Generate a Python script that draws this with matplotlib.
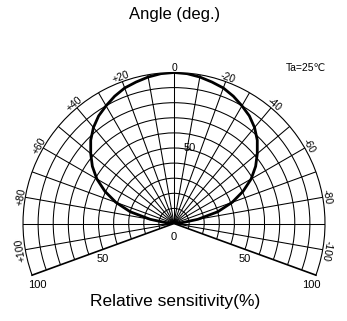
import numpy as np
import matplotlib
matplotlib.use("Agg")
import matplotlib.pyplot as plt

plt.rcParams["font.family"] = ["Liberation Sans", "DejaVu Sans"]

# directivity (deg from axis, relative sensitivity %)
angles = [0, 5, 10, 15, 20, 25, 30, 35, 40, 45, 50, 55, 60, 65, 70, 75, 80, 85, 90]
sensitivity = [100, 99.6, 98.5, 97, 95.5, 93, 90, 87, 83, 78, 72, 66, 59,
               50.5, 41, 30, 16, 5, 0]

angle_ticks = [0, 20, 40, 60, 80, 100]
angle_labels = ["0", "+20", "+40", "+60", "+80", "+100"]
angle_labels_neg = ["", "-20", "-40", "-60", "-80", "-100"]

W, H = 347, 321
fig = plt.figure(figsize=(W / 100, H / 100), dpi=100)
ax = fig.add_axes([0.0663, 0.143, 0.8703, 0.6312], projection="polar")

ax.set_theta_zero_location("N")
ax.set_thetamin(-110)
ax.set_thetamax(110)
ax.set_ylim(0, 100)

ax.set_rgrids(np.arange(10, 100, 10), labels=[])
ax.set_thetagrids(np.arange(-100, 101, 10), labels=[])
ax.grid(True, color="black", linewidth=0.75)
ax.tick_params(length=0)
for name, sp in ax.spines.items():
    sp.set_color("black")
    sp.set_linewidth(0.8 if name == "polar" else 1.2)

# place the wedge: centre at (174, 97.5) px from bottom-left, radius 151 px
cx_t, cy_t, rad_t = 174, H - 223.5, 151
for _ in range(3):
    fig.canvas.draw()
    cx, cy = ax.transData.transform((0, 0))
    tx, ty = ax.transData.transform((0, 100))
    s = rad_t / (ty - cy)
    pos = ax.get_position()
    fx = (cx / W - pos.x0) / pos.width
    fy = (cy / H - pos.y0) / pos.height
    w, h = pos.width * s, pos.height * s
    ax.set_position([cx_t / W - fx * w, cy_t / H - fy * h, w, h])

# full curve, mirrored
th = np.deg2rad(np.concatenate([-np.array(angles[::-1]), np.array(angles[1:])]))
rr = np.concatenate([sensitivity[::-1], sensitivity[1:]])
ax.plot(th, rr, color="black", linewidth=2.0, zorder=5,
        solid_joinstyle="round")

# angle labels along outer rim
for a, lp, ln in zip(angle_ticks, angle_labels, angle_labels_neg):
    ax.text(np.deg2rad(a), 103, lp, rotation=a, rotation_mode="anchor",
            ha="center", va="center", fontsize=7.5)
    if ln:
        ax.text(np.deg2rad(-a), 103, ln, rotation=-a, rotation_mode="anchor",
                ha="center", va="center", fontsize=7.5)

# radial scale labels
ax.annotate("50", (0, 50), xytext=(11, 0), textcoords="offset points",
            ha="center", va="center", fontsize=8)
ax.annotate("0", (0, 0), xytext=(0, -10), textcoords="offset points",
            ha="center", va="center", fontsize=8)
for side in (1, -1):
    ax.annotate("50", (np.deg2rad(110 * side), 50), xytext=(0, -7),
                textcoords="offset points", ha="center", va="center", fontsize=8)
    ax.annotate("100", (np.deg2rad(110 * side), 100), xytext=(3.5 * side, -7),
                textcoords="offset points", ha="center", va="center", fontsize=8)

fig.text(0.504, 0.956, "Angle (deg.)", ha="center", va="center", fontsize=12)
fig.text(0.504, 0.062, "Relative sensitivity(%)", ha="center", va="center", fontsize=12.5)
fig.text(0.882, 0.787, "Ta=25℃", ha="center", va="center", fontsize=7.5)

fig.savefig("out.png", dpi=100)
